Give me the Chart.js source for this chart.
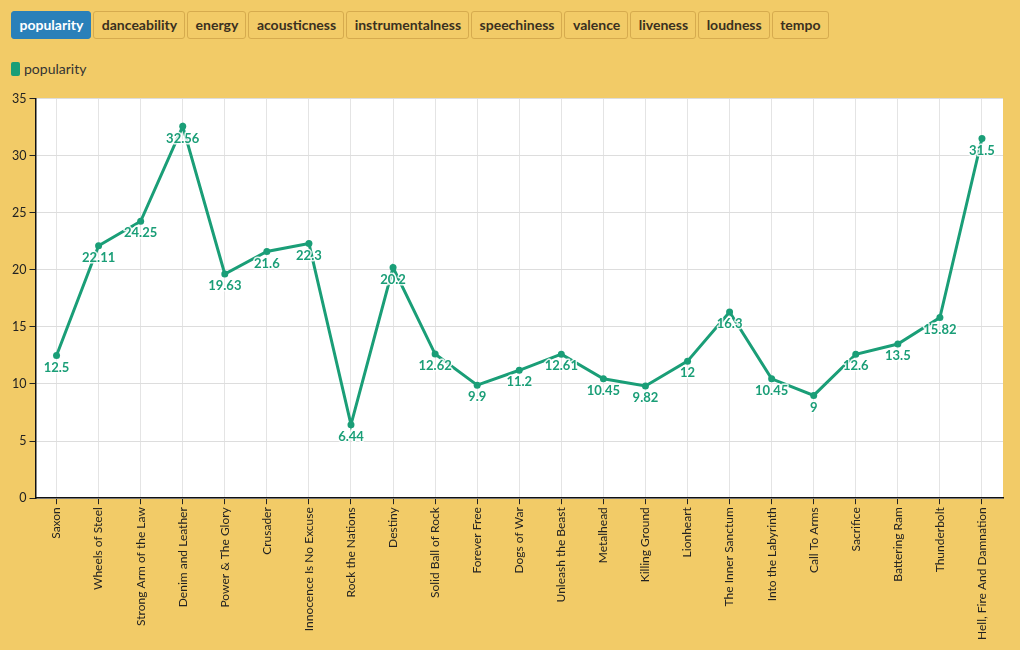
<!DOCTYPE html>
<html><head><meta charset="utf-8">
<script src="https://cdn.jsdelivr.net/npm/chart.js@4"></script>
<style>
html,body{margin:0;padding:0;background:#f2cb67;width:1020px;height:650px;overflow:hidden;font-family:Lato,"Open Sans",sans-serif;}
#btns{position:absolute;left:11px;top:11px;display:flex;gap:2px;}
.b{font:bold 14px Lato,"Open Sans",sans-serif;color:#3a3020;border:1px solid #d6ab4e;border-radius:3px;padding:0 7px 0 7.5px;height:28px;line-height:26px;box-sizing:border-box;background:#f2cb67;}
.b.on{background:#2a80b9;color:#fff;border-color:#2a80b9;}
#leg{position:absolute;left:11px;top:60px;font:14px Lato,"Open Sans",sans-serif;color:#333;display:flex;align-items:center;gap:4px;}
#leg span.sw{display:inline-block;width:9px;height:14px;border-radius:2px;background:#1a9e77;}
#wrap{position:absolute;left:0;top:88px;width:1020px;height:562px;}
</style></head><body>
<div id="btns"></div>
<div id="leg"><span class="sw"></span><span id="legtxt"></span></div>
<div id="wrap"><canvas id="c"></canvas></div>
<script>
const features = ["popularity","danceability","energy","acousticness","instrumentalness","speechiness","valence","liveness","loudness","tempo"];
const songs = ["Saxon","Wheels of Steel","Strong Arm of the Law","Denim and Leather","Power & The Glory","Crusader","Innocence Is No Excuse","Rock the Nations","Destiny","Solid Ball of Rock","Forever Free","Dogs of War","Unleash the Beast","Metalhead","Killing Ground","Lionheart","The Inner Sanctum","Into the Labyrinth","Call To Arms","Sacrifice","Battering Ram","Thunderbolt","Hell, Fire And Damnation"];
const popularity = [12.5,22.11,24.25,32.56,19.63,21.6,22.3,6.44,20.2,12.62,9.9,11.2,12.61,10.45,9.82,12,16.3,10.45,9,12.6,13.5,15.82,31.5];
const yTicks = [0,5,10,15,20,25,30,35];
const seriesName = "popularity";

const bw = document.getElementById('btns');
features.forEach((f,i)=>{const d=document.createElement('div');d.className='b'+(i===0?' on':'');d.textContent=f;bw.appendChild(d);});
document.getElementById('legtxt').textContent = seriesName;

const green = '#1a9e77';
const bgPlugin = {id:'bg',beforeDraw(ch){const a=ch.chartArea,c=ch.ctx;c.save();c.fillStyle='#fff';c.fillRect(a.left,a.top,a.right-a.left,a.bottom-a.top);c.restore();}};
const labelPlugin = {id:'lbl',afterDatasetsDraw(ch){const c=ch.ctx;const meta=ch.getDatasetMeta(0);c.save();c.font='bold 13px Lato, "Open Sans", sans-serif';c.textAlign='center';c.textBaseline='middle';c.lineJoin='round';
meta.data.forEach((p,i)=>{const t=String(ch.data.datasets[0].data[i]);const y=p.y+12;c.strokeStyle='rgba(255,255,255,0.85)';c.lineWidth=3;c.strokeText(t,p.x,y);c.fillStyle=green;c.fillText(t,p.x,y);});c.restore();}};

new Chart(document.getElementById('c'),{
 type:'line',
 data:{labels:songs,datasets:[{label:seriesName,data:popularity,borderColor:green,backgroundColor:green,borderWidth:3,pointRadius:3.5,pointBackgroundColor:green,pointBorderWidth:0,tension:0}]},
 options:{responsive:true,maintainAspectRatio:false,animation:false,
  layout:{padding:{left:9,right:17,top:10,bottom:7}},
  plugins:{legend:{display:false},tooltip:{enabled:false}},
  scales:{
   x:{offset:true,grid:{color:'#e4e4e4',drawTicks:true,tickLength:6,tickColor:'#222'},border:{color:'#111',width:1.5},
      ticks:{color:'#222',autoSkip:false,maxRotation:90,minRotation:90,font:{size:12,family:'Lato, "Open Sans", sans-serif'},padding:3}},
   y:{min:0,max:35,afterBuildTicks(ax){ax.ticks=yTicks.map(v=>({value:v}));},grid:{color:'#dddddd',tickLength:6,tickColor:'#222'},border:{color:'#111',width:1.5},
      ticks:{color:'#222',font:{size:12.5,family:'Lato, "Open Sans", sans-serif'},padding:3}}
  }},
 plugins:[bgPlugin,labelPlugin]
});
</script></body></html>
